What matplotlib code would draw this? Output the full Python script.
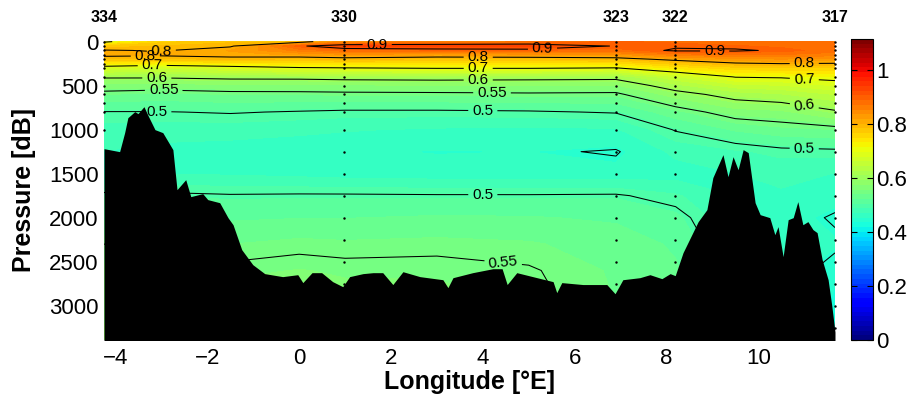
import numpy as np
import matplotlib
matplotlib.use("Agg")
import matplotlib.pyplot as plt
from matplotlib.colors import Normalize
from matplotlib.cm import ScalarMappable

plt.rcParams["font.family"] = ["Liberation Sans", "DejaVu Sans"]

# Grid of the section: longitude columns and pressure levels
lon_grid = [-4.25, -3.0, -1.5, 0.0, 1.0, 3.0, 5.0, 6.9, 8.2, 9.5, 10.5, 11.67]
pres_grid = [0, 50, 100, 150, 200, 300, 400, 500, 600, 800, 1000, 1250, 1500,
             1750, 2000, 2300, 2600, 3000, 3400]

prof_m425 = [0.69, 0.77, 0.803, 0.81, 0.78, 0.68, 0.605, 0.567, 0.54, 0.499, 0.48, 0.47, 0.47,
             0.505, 0.52, 0.55, 0.56, 0.57, 0.58]
prof_m300 = [0.76, 0.785, 0.797, 0.806, 0.78, 0.665, 0.605, 0.565, 0.535, 0.499, 0.478, 0.465, 0.47,
             0.505, 0.52, 0.545, 0.56, 0.57, 0.58]
prof_m150 = [0.78, 0.795, 0.82, 0.815, 0.785, 0.68, 0.61, 0.57, 0.54, 0.502, 0.478, 0.462, 0.468,
             0.502, 0.52, 0.54, 0.555, 0.565, 0.575]
prof_000 = [0.78, 0.895, 0.86, 0.82, 0.78, 0.695, 0.61, 0.572, 0.54, 0.498, 0.475, 0.458, 0.465,
            0.503, 0.522, 0.545, 0.558, 0.565, 0.57]
prof_100 = [0.845, 0.925, 0.88, 0.83, 0.785, 0.698, 0.615, 0.57, 0.543, 0.495, 0.472, 0.455, 0.462,
            0.503, 0.522, 0.543, 0.556, 0.563, 0.57]
prof_300 = [0.85, 0.93, 0.885, 0.82, 0.78, 0.703, 0.615, 0.575, 0.543, 0.495, 0.468, 0.452, 0.46,
            0.502, 0.525, 0.545, 0.556, 0.562, 0.568]
prof_500 = [0.87, 0.925, 0.89, 0.825, 0.78, 0.703, 0.613, 0.575, 0.545, 0.497, 0.466, 0.453, 0.458,
            0.502, 0.524, 0.542, 0.552, 0.556, 0.56]
prof_690 = [0.89, 0.898, 0.88, 0.83, 0.785, 0.698, 0.612, 0.572, 0.544, 0.502, 0.468, 0.448, 0.458,
            0.503, 0.52, 0.532, 0.538, 0.54, 0.54]
prof_820 = [0.885, 0.895, 0.905, 0.86, 0.81, 0.735, 0.66, 0.62, 0.585, 0.535, 0.502, 0.475, 0.462,
            0.49, 0.51, 0.52, 0.525, 0.53, 0.53]
prof_950 = [0.88, 0.89, 0.905, 0.87, 0.83, 0.76, 0.702, 0.655, 0.615, 0.565, 0.525, 0.485, 0.47,
            0.47, 0.47, 0.48, 0.49, 0.49, 0.49]
prof_1050 = [0.875, 0.885, 0.895, 0.87, 0.835, 0.765, 0.705, 0.66, 0.625, 0.57, 0.535, 0.493, 0.475,
             0.468, 0.462, 0.462, 0.465, 0.47, 0.47]
prof_1167 = [0.87, 0.88, 0.88, 0.86, 0.83, 0.765, 0.715, 0.68, 0.645, 0.595, 0.54, 0.495, 0.47,
             0.46, 0.447, 0.455, 0.44, 0.43, 0.43]

# Bathymetry (longitude, pressure of the sea floor)
bathy_lon = [-4.25, -3.91, -3.80, -3.73, -3.58, -3.51, -3.38, -3.30, -3.14, -2.97, -2.75, -2.66,
             -2.47, -2.36, -2.10, -1.99, -1.73, -1.55, -1.44, -1.25, -1.01, -0.75, -0.36, -0.03,
             0.08, 0.28, 0.49, 0.73, 0.95, 1.10, 1.39, 1.61, 1.82, 2.04, 2.26, 2.63, 3.13, 3.24,
             3.35, 3.78, 4.22, 4.42, 4.53, 4.74, 5.18, 5.53, 5.61, 5.72, 6.18, 6.70, 6.88, 7.05,
             7.42, 7.64, 7.90, 8.08, 8.19, 8.36, 8.69, 8.88, 9.01, 9.23, 9.34, 9.45, 9.56, 9.67,
             9.78, 9.93, 10.04, 10.25, 10.36, 10.43, 10.54, 10.65, 10.76, 10.86, 10.97, 11.08,
             11.19, 11.28, 11.39, 11.52, 11.60, 11.67]
bathy_p = [1216, 1250, 1034, 864, 795, 818, 739, 830, 1000, 1034, 1227, 1682,
           1568, 1761, 1727, 1795, 1830, 2000, 2080, 2364, 2534, 2636, 2670, 2648,
           2738, 2625, 2625, 2727, 2784, 2670, 2636, 2625, 2625, 2760, 2614, 2670, 2705, 2795,
           2682, 2625, 2580, 2580, 2760, 2625, 2682, 2727, 2852, 2738, 2760, 2760, 2864, 2705,
           2682, 2648, 2693, 2636, 2659, 2398, 2045, 1909, 1545, 1284, 1534, 1307, 1455, 1227,
           1261, 1830, 1966, 2000, 2193, 2102, 2443, 2023, 2000, 1818, 2080, 2045,
           2136, 2170, 2477, 2705, 3000, 3300]

# Stations
station_names = ["334", "330", "323", "322", "317"]
station_lon = [-4.25, 0.97, 6.9, 8.19, 11.67]
station_bottom = [1200, 2760, 2840, 2650, 3250]
bottle_p = [5, 50, 100, 150, 200, 250, 300, 400, 500, 600, 700, 800, 1000, 1250, 1500,
            1750, 2000, 2250, 2500, 2750, 3000, 3250]

line_levels = [0.45, 0.5, 0.55, 0.6, 0.7, 0.8, 0.9]
label_pos = [(1.7, 40), (5.3, 80), (9.05, 95),
             (-3.0, 117), (-3.35, 165), (3.9, 175), (11.0, 243),
             (-3.2, 272), (3.9, 300), (11.0, 440),
             (-3.1, 413), (3.9, 432), (11.0, 735),
             (-2.95, 552), (4.2, 580), (4.45, 2480),
             (-3.1, 797), (4.0, 780), (11.0, 1195), (4.0, 1740)]

field = np.column_stack([prof_m425, prof_m300, prof_m150, prof_000, prof_100, prof_300,
                         prof_500, prof_690, prof_820, prof_950, prof_1050, prof_1167])
X, Y = np.meshgrid(lon_grid, pres_grid)

cmap = plt.get_cmap("jet", 64)
norm = Normalize(vmin=0, vmax=1.115)

fig = plt.figure(figsize=(9.12, 3.97), dpi=100)
ax = fig.add_axes([104 / 912, 57 / 397, 731 / 912, 301 / 397])

ax.contourf(X, Y, field, levels=np.linspace(0, 1.115, 129), cmap=cmap, norm=norm, zorder=1)
cs = ax.contour(X, Y, field, levels=line_levels, colors="k", linewidths=0.75, zorder=2)
labels = ax.clabel(cs, manual=label_pos, fmt="%g", fontsize=11, inline=True, inline_spacing=4)
for t in labels:
    t.set_clip_on(False)

ax.fill_between(bathy_lon, bathy_p, 4000, color="k", lw=0, zorder=4)

for name, lon, bottom in zip(station_names, station_lon, station_bottom):
    ps = [p for p in bottle_p if p <= bottom]
    ax.plot([lon] * len(ps), ps, "k.", ms=1.5, zorder=5, clip_on=False)
    ax.text(lon, 1.073, name, transform=ax.get_xaxis_transform(), ha="center", va="center",
            fontsize=11.5, fontweight="bold")

ax.set_xlim(-4.25, 11.67)
ax.set_ylim(3390, -30)
ax.set_xticks([-4, -2, 0, 2, 4, 6, 8, 10])
ax.set_yticks([0, 500, 1000, 1500, 2000, 2500, 3000])
ax.tick_params(axis="both", length=0, labelsize=16)
ax.tick_params(axis="x", pad=6)
ax.tick_params(axis="y", pad=4)
for s in ax.spines.values():
    s.set_visible(False)

ax.set_xlabel("Longitude [°E]", fontsize=18, fontweight="bold")
ax.set_ylabel("Pressure [dB]", fontsize=18, fontweight="bold")
ax.xaxis.set_label_coords(0.5, -0.1)
ax.yaxis.set_label_coords(-0.093, 0.5)

cax = fig.add_axes([851 / 912, 57 / 397, 22 / 912, 301 / 397])
cb = fig.colorbar(ScalarMappable(norm=norm, cmap=cmap), cax=cax,
                  ticks=[0, 0.2, 0.4, 0.6, 0.8, 1], format="%g")
cb.outline.set_linewidth(0.8)
cb.ax.tick_params(labelsize=16, direction="in", length=4, left=True, right=True, pad=2)

fig.savefig("out.png", dpi=100)
